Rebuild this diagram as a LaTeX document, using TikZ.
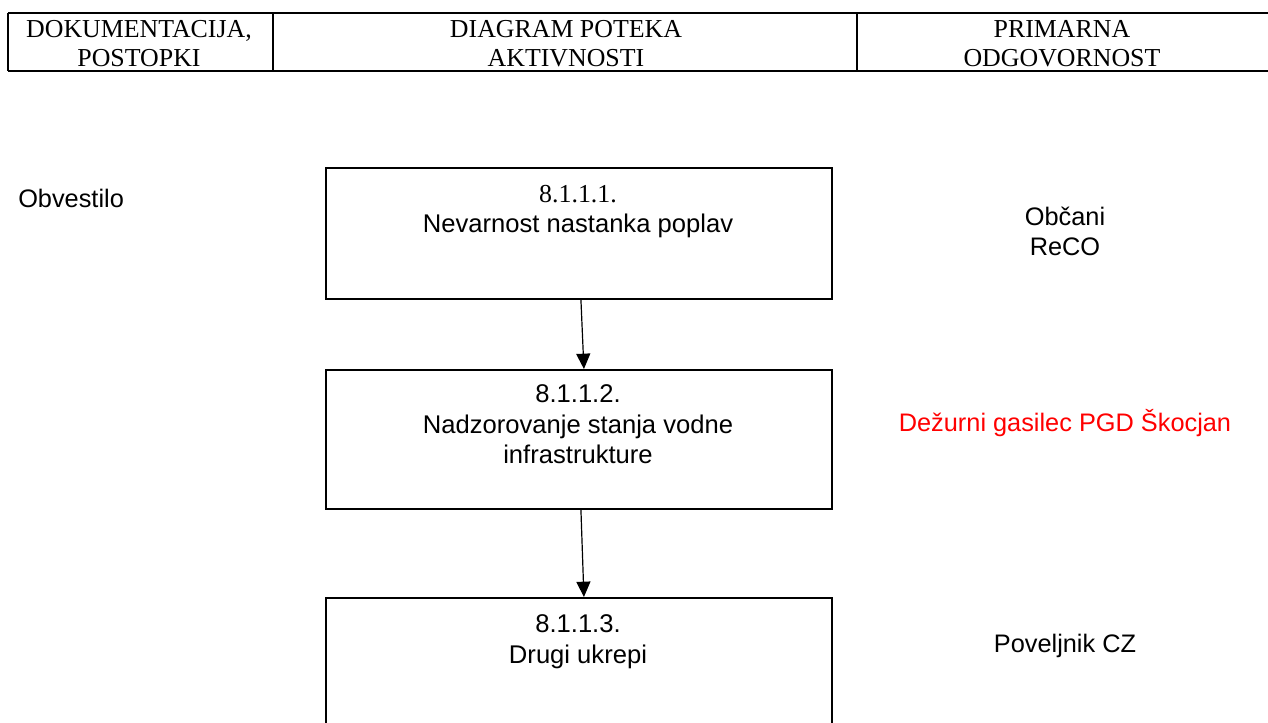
\documentclass[tikz,border=0pt]{standalone}
\usepackage{fontspec}
\setmainfont{Liberation Serif}
\newfontfamily\arialf{Liberation Sans}
\usetikzlibrary{arrows.meta}
\definecolor{redtxt}{RGB}{255,0,0}
\tikzset{
  hdrline/.style={line width=1.4pt},
  hdrtxt/.style={anchor=base, inner sep=0pt, font=\fontsize{19.4}{22}\selectfont},
  stepbox/.style={draw, line width=1.4pt, anchor=north west, minimum width=379.5pt, inner sep=0pt},
  serifnum/.style={anchor=base, inner sep=0pt, font=\fontsize{19.4}{22}\selectfont},
  boxtxt/.style={anchor=base, inner sep=0pt, font=\arialf\fontsize{19.2}{22}\selectfont},
  sidetxt/.style={anchor=base, inner sep=0pt, font=\arialf\fontsize{19}{22}\selectfont},
  arr/.style={line width=0.9pt, -{Triangle[length=11.5pt,width=10.5pt]}}
}
\begin{document}
\begin{tikzpicture}[x=0.75pt,y=-0.75pt]
\useasboundingbox (0,0) rectangle (1268,722);
\clip (0,0) rectangle (1268,722);
% header table
\draw[hdrline] (8,13) -- (1268,13);
\draw[hdrline] (8,71) -- (1268,71);
\draw[line width=1.1pt] (8,13) -- (8,71);
\draw[line width=1.1pt] (273,13) -- (273,71);
\draw[line width=1.1pt] (857,13) -- (857,71);
\node[hdrtxt] (h1a) at (139,37) {DOKUMENTACIJA,};
\node[hdrtxt] (h1b) at (139,66) {POSTOPKI};
\node[hdrtxt] (h2a) at (566,37) {DIAGRAM POTEKA};
\node[hdrtxt] (h2b) at (566,66) {AKTIVNOSTI};
\node[hdrtxt] (h3a) at (1062,37) {PRIMARNA};
\node[hdrtxt] (h3b) at (1062,66) {ODGOVORNOST};
% boxes
\node[stepbox, minimum height=98.25pt] (b1) at (325,167) {};
\node[stepbox, minimum height=104.25pt] (b2) at (325,369) {};
\node[stepbox, minimum height=130pt] (b3) at (325,597) {};
% box texts
\node[serifnum] (t1a) at (578,202) {8.1.1.1.};
\node[boxtxt] (t1b) at (578,232) {Nevarnost nastanka poplav};
\node[boxtxt] (t2a) at (578,402) {8.1.1.2.};
\node[boxtxt] (t2b) at (578,433) {Nadzorovanje stanja vodne};
\node[boxtxt] (t2c) at (578,463) {infrastrukture};
\node[boxtxt] (t3a) at (578,632) {8.1.1.3.};
\node[boxtxt] (t3b) at (578,663) {Drugi ukrepi};
% arrows
\draw[arr] ([xshift=1.5pt]b1.south) -- ([xshift=3.75pt]b2.north);
\draw[arr] ([xshift=1.5pt]b2.south) -- ([xshift=3.75pt]b3.north);
% side labels
\node[sidetxt, anchor=base west] (obv) at (18,207) {Obvestilo};
\node[sidetxt] (r1a) at (1065,225) {Občani};
\node[sidetxt] (r1b) at (1065,255) {ReCO};
\node[sidetxt, text=redtxt] (r2) at (1065,431) {Dežurni gasilec PGD Škocjan};
\node[sidetxt] (r3) at (1065,652) {Poveljnik CZ};
\end{tikzpicture}
\end{document}
